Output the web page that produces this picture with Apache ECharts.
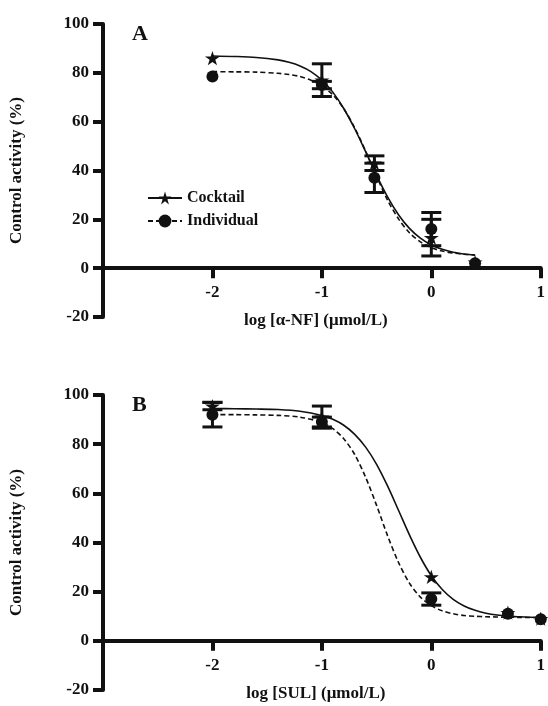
<!DOCTYPE html>
<html>
<head>
<meta charset="utf-8">
<script src="https://cdn.jsdelivr.net/npm/echarts@6/dist/echarts.min.js"></script>
<style>
  html, body { margin: 0; padding: 0; background: #fff; }
  #chart { width: 548px; height: 706px; }
</style>
</head>
<body>
<div id="chart"></div>
<script>
// panel A: alpha-NF
const xA = [-2, -1, -0.52, 0, 0.4];
const cocktailA = [86, 77, 43, 12.5, 2.5];
const cocktailErrA = [0, 6.7, 3, 7.5, 0];
const individualA = [78.5, 75, 37, 16, 2];
const individualErrA = [0, 1.5, 6, 6.8, 0];

// fitted curves, panel A
const fitXA = [-2, -1.8, -1.6, -1.4, -1.3, -1.2, -1.1, -1, -0.9, -0.8, -0.7, -0.6, -0.5, -0.4, -0.3, -0.2, -0.1, 0, 0.1, 0.2, 0.3, 0.4];
const cocktailFitA = [86.9, 86.7, 86.3, 85.3, 84.3, 82.8, 80.5, 77, 72.1, 65.4, 57.1, 47.7, 38, 29.2, 21.9, 16.3, 12.3, 9.5, 7.7, 6.5, 5.8, 5.3];
const individualFitA = [80.5, 80.4, 80.3, 79.8, 79.3, 78.5, 77.0, 74.7, 71.0, 65.3, 57.5, 47.9, 37.6, 27.9, 20.2, 14.5, 10.8, 8.4, 7.0, 6.2, 5.7, 5.4];

// panel B: SUL
const xB = [-2, -1, 0, 0.7, 1];
const cocktailB = [95.5, 91, 26, 11.5, 9];
const cocktailErrB = [1.5, 4.5, 0, 0, 0];
const individualB = [92, 89, 17, 11, 8.8];
const individualErrB = [5, 2, 2.5, 0, 0];

const fitXB = [-2, -1.8, -1.6, -1.4, -1.2, -1, -0.9, -0.8, -0.7, -0.6, -0.5, -0.4, -0.3, -0.2, -0.1, 0, 0.1, 0.2, 0.3, 0.4, 0.5, 0.6, 0.7, 0.8, 0.9, 1];
const cocktailFitB = [94.5, 94.4, 94.3, 94.1, 93.4, 91.7, 90.1, 87.7, 84.0, 78.8, 71.8, 63, 53.1, 43.1, 34.0, 26.5, 20.9, 16.9, 14.2, 12.4, 11.25, 10.5, 10.06, 9.8, 9.6, 9.5];
const individualFitB = [92.0, 92.0, 91.9, 91.7, 91.0, 88.8, 86.3, 82.2, 75.8, 66.5, 55.1, 42.8, 31.9, 23.5, 17.8, 14.3, 12.2, 11.0, 10.3, 10.0, 9.8, 9.7, 9.6, 9.55, 9.5, 9.5];

const xTicks = [-2, -1, 0, 1];
const yLabel = 'Control activity (%)';
const xLabelA = 'log [α-NF] (μmol/L)';
const xLabelB = 'log [SUL] (μmol/L)';

const ink = '#111';
const font = 'Liberation Serif';
const star = 'path://M50,0L61.17,34.63L97.55,34.55L68.07,55.87L79.39,90.45L50,69L20.61,90.45L31.93,55.87L2.45,34.55L38.83,34.63Z';

function pairs(xs, ys) {
    return xs.map((x, i) => [x, ys[i]]);
}

function errData(xs, ys, errs) {
    const out = [];
    for (let i = 0; i < xs.length; i++) {
        if (errs[i] > 0) out.push([xs[i], ys[i] - errs[i], ys[i] + errs[i]]);
    }
    return out;
}

function renderErr(params, api) {
    const x = api.value(0);
    const lo = api.coord([x, api.value(1)]);
    const hi = api.coord([x, api.value(2)]);
    const w = 10;
    const style = { stroke: ink, lineWidth: 3 };
    return {
        type: 'group',
        children: [
            { type: 'line', shape: { x1: lo[0], y1: lo[1], x2: hi[0], y2: hi[1] }, style: style },
            { type: 'line', shape: { x1: lo[0] - w, y1: lo[1], x2: lo[0] + w, y2: lo[1] }, style: style },
            { type: 'line', shape: { x1: hi[0] - w, y1: hi[1], x2: hi[0] + w, y2: hi[1] }, style: style }
        ]
    };
}

// x axis sits on y = 0, so shift it up by a sixth of the grid height
function xAxisOf(idx, name, gridH) {
    return {
        gridIndex: idx, type: 'value', min: -3, max: 1, interval: 1,
        offset: -gridH / 6,
        name: name, nameLocation: 'middle', nameGap: 44,
        nameTextStyle: { color: ink, fontFamily: font, fontWeight: 'bold', fontSize: 17, padding: [0, 12, 0, 0] },
        axisLine: { onZero: false, lineStyle: { color: ink, width: 4 } },
        axisTick: { length: 10, customValues: xTicks, lineStyle: { color: ink, width: 4 } },
        axisLabel: { customValues: xTicks, margin: 16, color: ink, fontFamily: font, fontWeight: 'bold', fontSize: 17 },
        splitLine: { show: false }
    };
}

function yAxisOf(idx) {
    return {
        gridIndex: idx, type: 'value', min: -20, max: 100, interval: 20,
        name: yLabel, nameLocation: 'middle', nameGap: 78,
        nameTextStyle: { color: ink, fontFamily: font, fontWeight: 'bold', fontSize: 17 },
        axisLine: { show: true, onZero: false, lineStyle: { color: ink, width: 4 } },
        axisTick: { show: true, length: 10, lineStyle: { color: ink, width: 4 } },
        axisLabel: { margin: 14, color: ink, fontFamily: font, fontWeight: 'bold', fontSize: 17 },
        splitLine: { show: false }
    };
}

function panelSeries(idx, suffix, xs, ck, ckErr, ind, indErr, fitX, ckFit, indFit) {
    return [
        {
            name: 'Cocktail' + suffix, type: 'line', xAxisIndex: idx, yAxisIndex: idx,
            data: pairs(fitX, ckFit), smooth: 0.3,
            symbol: star, symbolSize: 15, symbolKeepAspect: true, showSymbol: false,
            itemStyle: { color: ink }, lineStyle: { color: ink, width: 1.6 }, silent: true
        },
        {
            name: 'Individual' + suffix, type: 'line', xAxisIndex: idx, yAxisIndex: idx,
            data: pairs(fitX, indFit), smooth: 0.3,
            symbol: 'circle', symbolSize: 12, showSymbol: false,
            itemStyle: { color: ink }, lineStyle: { color: ink, width: 1.6, type: [5, 3] }, silent: true
        },
        {
            type: 'custom', xAxisIndex: idx, yAxisIndex: idx, renderItem: renderErr,
            encode: { x: 0, y: [1, 2] }, data: errData(xs, ck, ckErr), silent: true
        },
        {
            type: 'custom', xAxisIndex: idx, yAxisIndex: idx, renderItem: renderErr,
            encode: { x: 0, y: [1, 2] }, data: errData(xs, ind, indErr), silent: true
        },
        {
            type: 'scatter', xAxisIndex: idx, yAxisIndex: idx, data: pairs(xs, ind),
            symbol: 'circle', symbolSize: 12, itemStyle: { color: ink, opacity: 1 }, silent: true
        },
        {
            type: 'scatter', xAxisIndex: idx, yAxisIndex: idx, data: pairs(xs, ck),
            symbol: star, symbolSize: 15, symbolKeepAspect: true, itemStyle: { color: ink, opacity: 1 }, silent: true
        }
    ];
}

const gridHA = 293, gridHB = 295;

const chart = echarts.init(document.getElementById('chart'));
chart.setOption({
    backgroundColor: '#fff',
    animation: false,
    title: [
        { text: 'A', left: 127, top: 18, textStyle: { color: ink, fontFamily: font, fontWeight: 'bold', fontSize: 22 } },
        { text: 'B', left: 127, top: 389, textStyle: { color: ink, fontFamily: font, fontWeight: 'bold', fontSize: 22 } }
    ],
    legend: {
        data: ['Cocktail', 'Individual'],
        orient: 'vertical', left: 142, top: 185,
        itemWidth: 34, itemHeight: 16, itemGap: 7,
        textStyle: { color: ink, fontFamily: font, fontWeight: 'bold', fontSize: 16 }
    },
    grid: [
        { left: 96, top: 24, width: 446, height: gridHA },
        { left: 96, top: 395, width: 446, height: gridHB }
    ],
    xAxis: [xAxisOf(0, xLabelA, gridHA), xAxisOf(1, xLabelB, gridHB)],
    yAxis: [yAxisOf(0), yAxisOf(1)],
    series: [].concat(
        panelSeries(0, '', xA, cocktailA, cocktailErrA, individualA, individualErrA, fitXA, cocktailFitA, individualFitA),
        panelSeries(1, ' B', xB, cocktailB, cocktailErrB, individualB, individualErrB, fitXB, cocktailFitB, individualFitB)
    )
});
</script>
</body>
</html>
